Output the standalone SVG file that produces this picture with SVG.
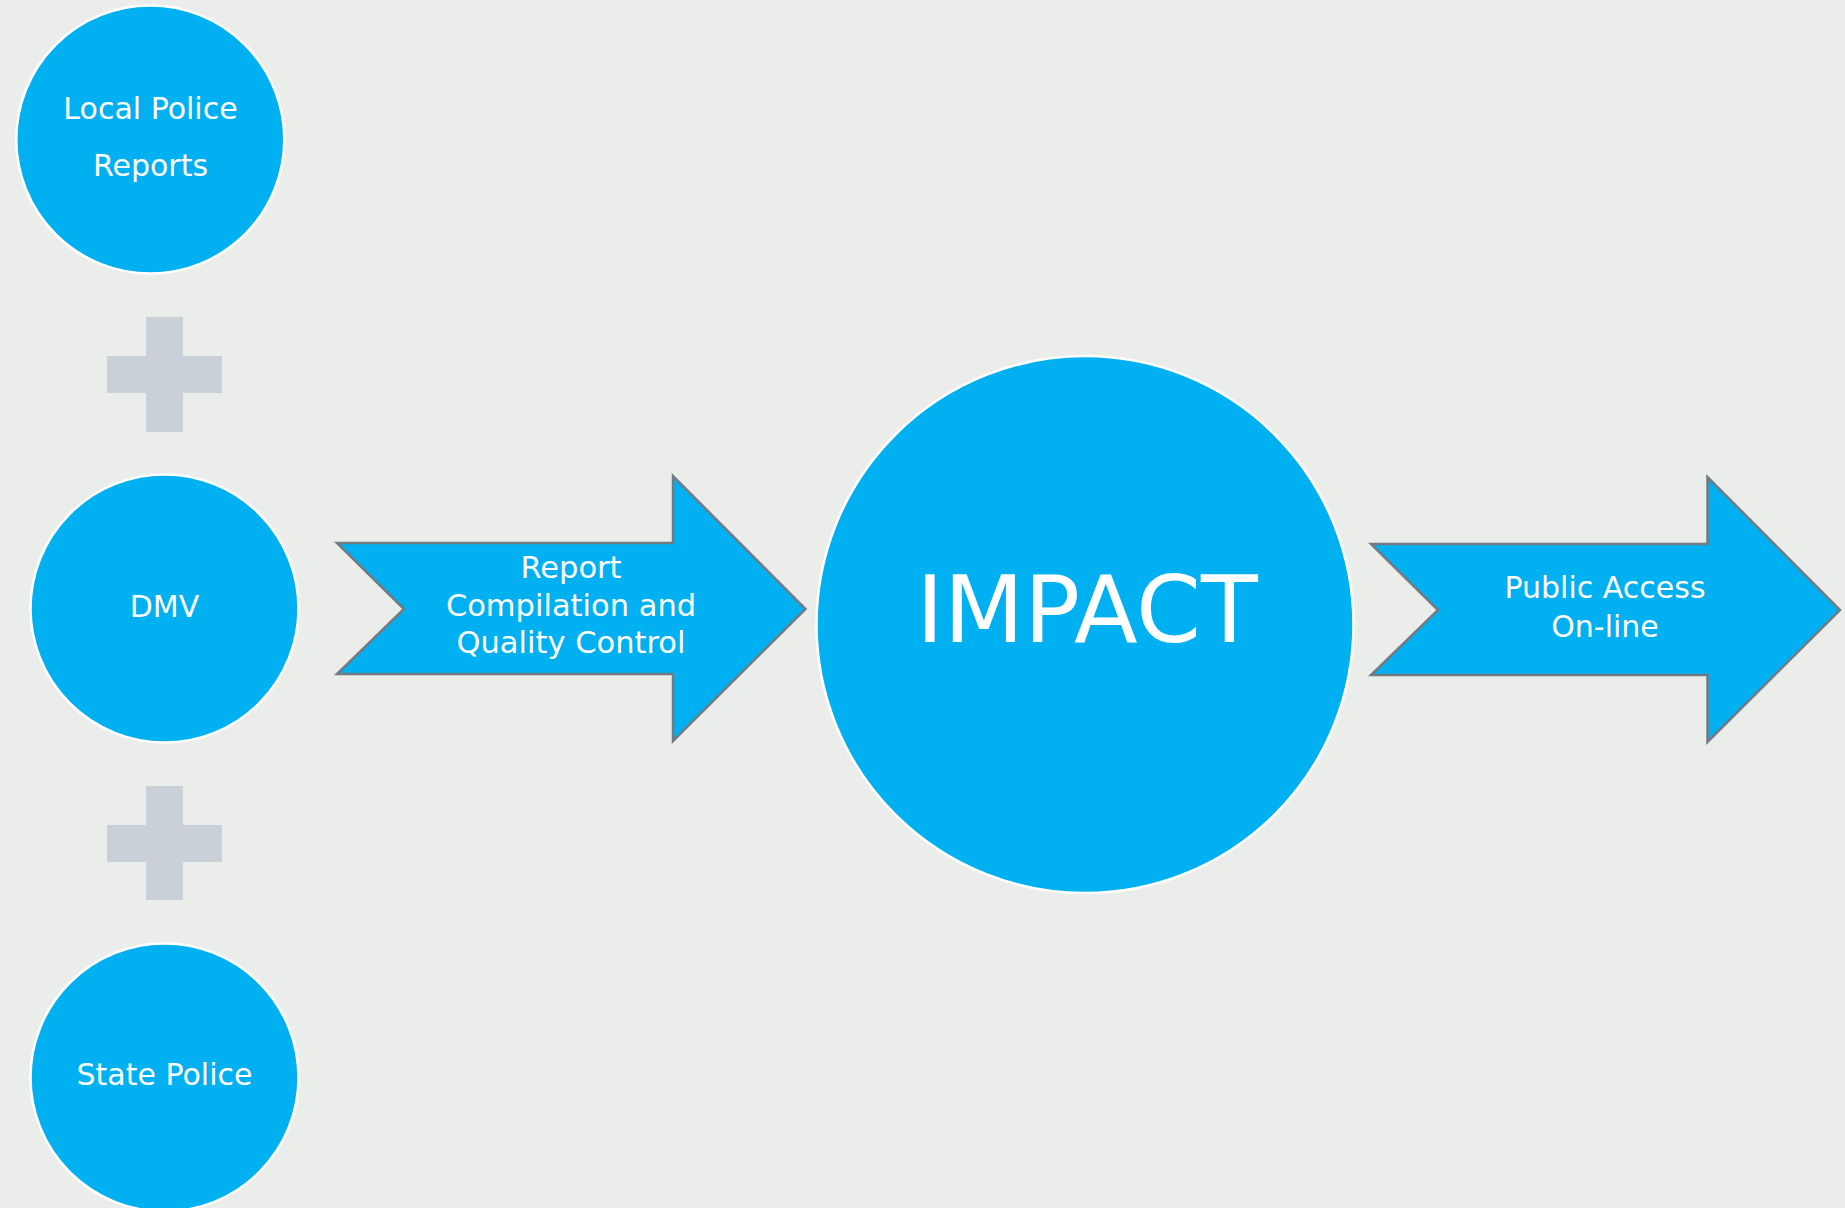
<svg xmlns="http://www.w3.org/2000/svg" width="1845" height="1208" viewBox="0 0 1845 1208">
<style>
.node{fill:#00B0F0;stroke:#FFFFFF;stroke-width:2.5}
.arrow{fill:#00B0F0;stroke:#727B84;stroke-width:2.5;stroke-linejoin:miter}
.plus{fill:#C9D0D8}
.t{fill:#FFFFFF;font-family:"DejaVu Sans","Noto Sans",sans-serif;font-size:30px;text-anchor:middle}
</style>
<rect x="0" y="0" width="1845" height="1208" fill="#EBEDEA"/>
<g id="plus1"><path class="plus" d="M146,317H183V356H222V393H183V432H146V393H107V356H146Z"/></g>
<g id="plus2"><path class="plus" d="M146,786H183V825H222V862H183V900H146V862H107V825H146Z"/></g>
<g id="local-police"><circle class="node" cx="150.3" cy="139.5" r="134"/><text class="t" x="150.5" y="119">Local Police</text><text class="t" x="150.5" y="176">Reports</text></g>
<g id="dmv"><circle class="node" cx="164.5" cy="608.5" r="134"/><text class="t" x="164.5" y="617">DMV</text></g>
<g id="state-police"><circle class="node" cx="164.5" cy="1077.5" r="134"/><text class="t" x="164.5" y="1085">State Police</text></g>
<g id="connectors">
<g id="arrow-compilation"><path class="arrow" d="M337,543H673V476L805.5,609L673,741V674H337L404,609Z"/><text class="t" style="font-size:30.5px" x="571" y="578">Report</text><text class="t" style="font-size:30.5px" x="571" y="616">Compilation and</text><text class="t" style="font-size:30.5px" x="571" y="653">Quality Control</text></g>
<g id="arrow-public"><path class="arrow" d="M1371,544H1707.5V477L1840,610L1707.5,742V675H1371L1438,610Z"/><text class="t" x="1605" y="598">Public Access</text><text class="t" x="1605" y="637">On-line</text></g>
</g>
<g id="impact"><circle class="node" cx="1085" cy="624.6" r="268.5"/><text class="t" style="font-size:93px" x="1087" y="642">IMPACT</text></g>
</svg>
